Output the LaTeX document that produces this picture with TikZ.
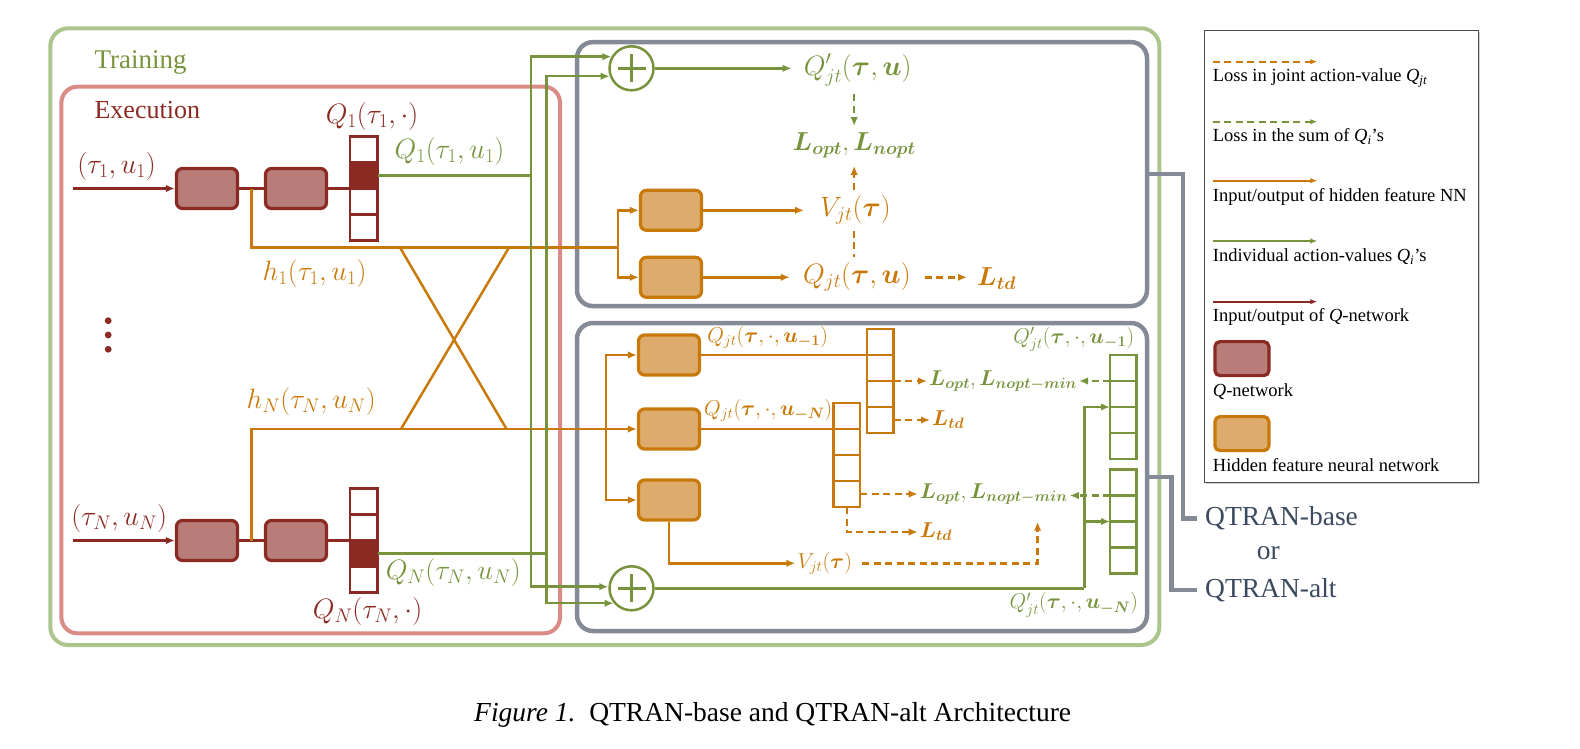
\documentclass[tikz,border=0pt]{standalone}
\usepackage{fix-cm}
\usepackage{amsmath}
\usepackage{fontspec}
\setmainfont{Liberation Serif}
\usepackage{bm}
\usetikzlibrary{arrows.meta, positioning, shadows}

\definecolor{qred}{HTML}{8B2A23}
\definecolor{qredfill}{HTML}{B87D78}
\definecolor{hfor}{HTML}{C8790A}
\definecolor{hffill}{HTML}{DDAB6C}
\definecolor{qgr}{HTML}{77933C}
\definecolor{trgr}{HTML}{ABC58D}
\definecolor{expk}{HTML}{DA8B86}
\definecolor{panel}{HTML}{848B96}
\definecolor{qtxt}{HTML}{3B4A5E}

\begin{document}
\begin{tikzpicture}[x=1pt, y=-1pt, >={Latex[length=9pt,width=7.5pt]},
  trainbox/.style={draw=trgr, line width=4pt, rounded corners=18pt},
  execbox/.style={draw=expk, line width=4pt, rounded corners=16pt},
  panelbox/.style={draw=panel, line width=4.5pt, rounded corners=16pt},
  qnet/.style={draw=qred, fill=qredfill, line width=3.2pt, rounded corners=6pt, minimum width=61pt, minimum height=40pt, inner sep=0pt},
  hnet/.style={draw=hfor, fill=hffill, line width=3.2pt, rounded corners=6pt, minimum width=61pt, minimum height=40pt, inner sep=0pt},
  rcell/.style={draw=qred, line width=2.2pt, minimum width=27.5pt, minimum height=26pt, inner sep=0pt, outer sep=0pt, anchor=north west},
  ocell/.style={rcell, draw=hfor, minimum width=26.5pt},
  gcell/.style={rcell, draw=qgr, minimum width=26.5pt},
  sumnode/.style={circle, draw=qgr, line width=2.5pt, minimum size=44pt, inner sep=0pt,
    path picture={\draw[qgr, line width=2.5pt]
      ([xshift=-14pt]path picture bounding box.center) -- ([xshift=14pt]path picture bounding box.center)
      ([yshift=-14pt]path picture bounding box.center) -- ([yshift=14pt]path picture bounding box.center);}},
  rline/.style={draw=qred, line width=2.8pt},
  oline/.style={draw=hfor, line width=2.5pt},
  gline/.style={draw=qgr, line width=2.5pt},
  odash/.style={oline, dash pattern=on 7pt off 4.5pt},
  gdash/.style={gline, dash pattern=on 7pt off 4.5pt},
  pline/.style={draw=panel, line width=4.5pt},
  bigm/.style={font=\fontsize{28}{30}\selectfont, inner sep=2pt},
  lossm/.style={font=\fontsize{26}{28}\selectfont, inner sep=2pt},
  smallm/.style={font=\fontsize{21.5}{23}\selectfont, inner sep=2pt},
  legtext/.style={anchor=base west, inner sep=0pt, font=\fontsize{18.5}{20}\selectfont},
  legline/.style={line width=2pt, -{Latex[length=7pt,width=5.5pt]}},
  qtran/.style={font=\fontsize{27.5}{30}\selectfont, text=qtxt, inner sep=2pt}]
\useasboundingbox (0,0) rectangle (1580,749);

\draw[trainbox] (50.3,28.3) rectangle (1159.3,645);
\draw[execbox] (61.4,86.7) rectangle (560,633.3);
\node[panelbox, minimum width=570pt, minimum height=264pt] (basebox) at (862,174.1) {};
\node[panelbox, minimum width=570pt, minimum height=308pt] (altbox) at (862,477) {};
\node[font=\fontsize{27}{30}\selectfont, text=qgr, anchor=base west, inner sep=0pt] (trlbl) at (94.4,68.3) {Training};
\node[font=\fontsize{26}{30}\selectfont, text=qred, anchor=base west, inner sep=0pt] (exlbl) at (94.4,118.3) {Execution};

% agents
\node[qnet] (q1a) at (207,188.5) {};
\node[qnet] (q1b) at (296,188.5) {};
\node[qnet] (qNa) at (207,540.5) {};
\node[qnet] (qNb) at (296,540.5) {};
\foreach \i/\f in {1/white,2/qred,3/white,4/white}
  \node[rcell, fill=\f] (v1c\i) at (350,110.5+26*\i) {};
\foreach \i/\f in {1/white,2/white,3/qred,4/white}
  \node[rcell, fill=\f] (vNc\i) at (350,462.5+26*\i) {};
\coordinate (in1) at (72.7,188.5);
\coordinate (inN) at (72.7,540.5);
\draw[rline,->] (in1) -- (q1a.west);
\draw[rline] (q1a.east) -- (q1b.west);
\draw[rline] (q1b.east) -- (v1c2.south west);
\draw[rline,->] (inN) -- (qNa.west);
\draw[rline] (qNa.east) -- (qNb.west);
\draw[rline] (qNb.east) -- (vNc3.north west);
\node[bigm, text=qred] (in1lbl) at (116.6,166.7) {$(\tau_1,u_1)$};
\node[bigm, text=qred] (inNlbl) at (119.2,518.3) {$(\tau_N,u_N)$};
\node[bigm, text=qred] (q1all) at (372,116.7) {$Q_1(\tau_1,\cdot)$};
\node[bigm, text=qgr] (q1val) at (449.5,151.7) {$Q_1(\tau_1,u_1)$};
\node[bigm, text=hfor] (h1lbl) at (314.5,273.3) {$h_1(\tau_1,u_1)$};
\node[bigm, text=hfor] (hNlbl) at (311.2,401.7) {$h_N(\tau_N,u_N)$};
\node[bigm, text=qgr] (qNval) at (453.3,572.7) {$Q_N(\tau_N,u_N)$};
\node[bigm, text=qred] (qNall) at (367.5,611.7) {$Q_N(\tau_N,\cdot)$};
\foreach \yy in {320.7,335,349.3}
  \fill[qred] (108.2,\yy) circle (3.4);

% hidden features
\node[hnet] (hf1) at (671,210.3) {};
\node[hnet] (hf2) at (671,277.3) {};
\node[hnet] (hfa) at (669,355) {};
\node[hnet] (hfb) at (669,429) {};
\node[hnet] (hfc) at (669,500) {};
\coordinate (hs1) at (251.5,188.5);
\coordinate (hsN) at (251.5,540.5);
\coordinate (br1) at (618,247.5);
\coordinate (brN) at (606,429);
\coordinate (xt1) at (400,247.5);
\coordinate (xt2) at (509,247.5);
\coordinate (xb1) at (401,429);
\coordinate (xb2) at (506.5,429);
\draw[oline] (hs1) |- (br1);
\draw[oline] (hsN) |- (brN);
\draw[oline] (xt1) -- (xb2);
\draw[oline] (xt2) -- (xb1);
\draw[oline,->] (br1) |- (hf1.west);
\draw[oline,->] (br1) |- (hf2.west);
\draw[oline,->] (brN) -- (hfb.west);
\draw[oline,->] (brN) |- (hfa.west);
\draw[oline,->] (brN) |- (hfc.west);

% sums of Q_i
\node[sumnode] (plusT) at (631.5,68.3) {};
\node[sumnode] (plusB) at (631.5,588.3) {};
\coordinate (j1) at (530.8,175.5);
\coordinate (j2) at (546.3,553.5);
\draw[gline] (v1c2.east) -- (j1);
\draw[gline] (vNc3.east) -- (j2);
\draw[gline,->] (j1) |- (plusT.150);
\draw[gline,->] (j1) |- (plusB.176);
\draw[gline,->] (j2) |- (plusT.200);
\draw[gline,->] (j2) |- (plusB.220);

% QTRAN-base
\node[bigm, text=qgr, anchor=west] (qjtp) at (801.6,70) {$Q'_{jt}(\bm{\tau},\bm{u})$};
\node[lossm, text=qgr] (loptT) at (854.2,145) {$\bm{L_{opt}},\bm{L_{nopt}}$};
\node[bigm, text=hfor, anchor=west] (vjtT) at (818,210.3) {$V_{jt}(\bm{\tau})$};
\node[bigm, text=hfor, anchor=west] (qjtT) at (800.8,277.3) {$Q_{jt}(\bm{\tau},\bm{u})$};
\node[lossm, text=hfor, anchor=west] (ltdT) at (975,279) {$\bm{L_{td}}$};
\draw[gline,->,shorten >=10pt] (plusT.east) -- (plusT.east -| qjtp.west);
\draw[oline,->,shorten >=14pt] (hf1.east) -- (hf1.east -| vjtT.west);
\draw[oline,->,shorten >=11pt] (hf2.east) -- (hf2.east -| qjtT.west);
\draw[odash,->,shorten <=12pt,shorten >=8pt] (qjtT.east) -- (qjtT.east -| ltdT.west);
\draw[gdash,->,shorten <=6pt,shorten >=4pt] (loptT.north |- qjtp.south) -- (loptT.north);
\draw[odash,->,shorten <=4pt,shorten >=6pt] (loptT.south |- vjtT.north) -- (loptT.south);
\draw[odash,shorten <=4pt,shorten >=4pt] (loptT.south |- vjtT.south) -- (loptT.south |- qjtT.north);

% QTRAN-alt
\foreach \i in {1,...,4} \node[ocell] (va\i) at (867,303+26*\i) {};
\foreach \i in {1,...,4} \node[ocell] (vb\i) at (833.5,377+26*\i) {};
\foreach \i in {1,...,4} \node[gcell] (vc\i) at (1110,329+26*\i) {};
\foreach \i in {1,...,4} \node[gcell] (vd\i) at (1110,443.5+26*\i) {};
\draw[oline] (hfa.east) -- (va2.north west);
\draw[oline] (hfb.east) -- (vb2.north west);
\node[smallm, text=hfor] (qjtA) at (767.6,337.3) {$Q_{jt}(\bm{\tau},\cdot,\bm{u_{-1}})$};
\node[smallm, text=hfor] (qjtB) at (768.2,410.7) {$Q_{jt}(\bm{\tau},\cdot,\bm{u_{-N}})$};
\node[smallm, text=qgr, anchor=west] (loptA) at (927,381) {$\bm{L_{opt}},\bm{L_{nopt-min}}$};
\node[smallm, text=hfor, anchor=west] (ltdA) at (930,420) {$\bm{L_{td}}$};
\node[smallm, text=qgr, anchor=west] (loptB) at (917.7,494) {$\bm{L_{opt}},\bm{L_{nopt-min}}$};
\node[smallm, text=hfor, anchor=west] (ltdB) at (917.7,532) {$\bm{L_{td}}$};
\node[smallm, text=hfor, anchor=west] (vjtB) at (795.3,563.3) {$V_{jt}(\bm{\tau})$};
\node[smallm, text=qgr] (qpA) at (1073.8,339.3) {$Q'_{jt}(\bm{\tau},\cdot,\bm{u_{-1}})$};
\node[smallm, text=qgr] (qpB) at (1073.8,605) {$Q'_{jt}(\bm{\tau},\cdot,\bm{u_{-N}})$};
\draw[odash,->] (va2.south east) -- (va2.south east -| loptA.west);
\draw[odash,->] (va4.east) -- (va4.east -| ltdA.west);
\draw[gdash,->] (vc2.north west) -- (vc2.north west -| loptA.east);
\draw[odash,->] (vb4.east) -- (vb4.east -| loptB.west);
\draw[gdash,->] (vd2.north west) -- (vd2.north west -| loptB.east);
\draw[odash,->] (vb4.south) |- (ltdB.west);
\draw[oline,->] (hfc.south) |- (vjtB.west);
\coordinate (vup) at (1037.6,521.7);
\draw[odash,->,shorten <=8pt] (vjtB.east) -| (vup);
\coordinate (gj) at (1084.3,588.3);
\draw[gline] (plusB.east) -- (gj);
\draw[gline,->] (gj) |- (vc3.north west);
\draw[gline,->] (gj) |- (vd3.north west);

% variants
\node[qtran, anchor=west] (qbase) at (1203,518.3) {QTRAN-base};
\node[qtran] (qor) at (1268.3,553.3) {or};
\node[qtran, anchor=west] (qalt) at (1203,590) {QTRAN-alt};
\draw[pline] (basebox.east) -| ([xshift=-20pt]qbase.west) -- ([xshift=-6pt]qbase.west);
\draw[pline] (altbox.east) -| ([xshift=-31.3pt]qalt.west) -- ([xshift=-6pt]qalt.west);

% legend
\node[draw=black!70, line width=0.8pt, fill=white, drop shadow={opacity=0.35, shadow xshift=2pt, shadow yshift=-2pt}, minimum width=274pt, minimum height=452pt] (legend) at (1341.2,256) {};
\node[legtext] (lg1) at (1212.7,81.7) {Loss in joint action-value \textit{Q}\textsubscript{\textit{jt}}};
\node[legtext] (lg2) at (1212.7,141.7) {Loss in the sum of \textit{Q}\textsubscript{\textit{i}}'s};
\node[legtext] (lg3) at (1212.7,201.7) {Input/output of hidden feature NN};
\node[legtext] (lg4) at (1212.7,261.7) {Individual action-values \textit{Q}\textsubscript{\textit{i}}'s};
\node[legtext] (lg5) at (1212.7,321.7) {Input/output of \textit{Q}-network};
\draw[odash,legline] ([yshift=20pt]lg1.base west) -- ++(104.6,0);
\draw[gdash,legline] ([yshift=20pt]lg2.base west) -- ++(104.6,0);
\draw[oline,legline] ([yshift=21pt]lg3.base west) -- ++(104.6,0);
\draw[gline,legline] ([yshift=20.7pt]lg4.base west) -- ++(104.6,0);
\draw[rline,legline] ([yshift=20pt]lg5.base west) -- ++(104.6,0);
\node[qnet, minimum width=54pt, minimum height=34pt, rounded corners=5pt, anchor=north west] (lgq) at (1213.3,340) {};
\node[legtext] (lg6) at (1212.7,396.7) {\textit{Q}-network};
\node[hnet, minimum width=54pt, minimum height=34pt, rounded corners=5pt, anchor=north west] (lgh) at (1213.3,415) {};
\node[legtext] (lg7) at (1212.7,471.7) {Hidden feature neural network};

\node[font=\fontsize{27.5}{30}\selectfont, anchor=base] (caption) at (772.7,721.5) {\textit{Figure 1.}\ \ QTRAN-base and QTRAN-alt Architecture};
\end{tikzpicture}
\end{document}
